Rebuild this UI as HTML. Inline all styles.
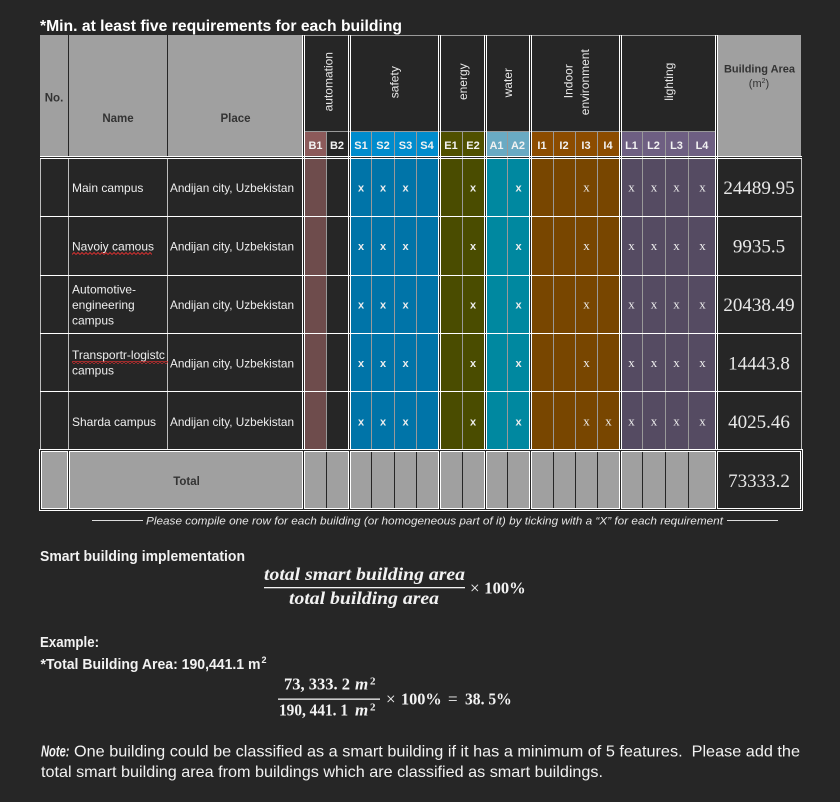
<!DOCTYPE html>
<html><head><meta charset="utf-8"><style>
html,body{margin:0;padding:0;background:#262626;}
svg{display:block;font-family:"Liberation Sans",sans-serif;}
.sf,.sf text{font-family:"Liberation Serif",serif;}
</style></head><body>
<svg width="840" height="802" viewBox="0 0 840 802" xmlns="http://www.w3.org/2000/svg">
<defs>
<pattern id="zz" x="0" y="0" width="4" height="3" patternUnits="userSpaceOnUse">
<path d="M0 2.5 L2 0.5 L4 2.5" stroke="#e03030" stroke-width="0.9" fill="none"/>
</pattern>
</defs>
<rect width="840" height="802" fill="#262626"/>

<!-- Title -->
<text x="40" y="31" font-size="16" font-weight="bold" fill="#fff" textLength="362" lengthAdjust="spacingAndGlyphs">*Min. at least five requirements for each building</text>

<!-- Header gray blocks -->
<rect x="40" y="35" width="262" height="121" fill="#a0a0a0"/>
<rect x="68" y="35" width="1" height="121" fill="#262626"/>
<rect x="167" y="35" width="1" height="121" fill="#262626"/>
<rect x="718" y="35" width="83" height="121" fill="#a0a0a0"/>
<rect x="302" y="35" width="416" height="1" fill="#9a9a9a"/>

<!-- Subheader fills -->
<rect x="305" y="131" width="21" height="25" fill="#8c5a5a"/>
<rect x="351" y="131" width="87" height="25" fill="#008ccd"/>
<rect x="441" y="131" width="43" height="25" fill="#505000"/>
<rect x="487" y="131" width="42" height="25" fill="#6aaac3"/>
<rect x="532" y="131" width="87" height="25" fill="#8c4c00"/>
<rect x="622" y="131" width="93" height="25" fill="#6e5f82"/>
<rect x="304" y="131" width="411" height="1" fill="#999"/>

<!-- Data fills -->
<rect x="305" y="159" width="21" height="290" fill="#6e4c4c"/>
<rect x="351" y="159" width="87" height="290" fill="#0074a8"/>
<rect x="441" y="159" width="43" height="290" fill="#4a4c00"/>
<rect x="487" y="159" width="42" height="290" fill="#0088a0"/>
<rect x="532" y="159" width="87" height="290" fill="#784600"/>
<rect x="622" y="159" width="93" height="290" fill="#554b62"/>

<!-- Sub-column gray lines -->
<g fill="#999">
<rect x="326" y="131" width="1" height="318"/>
<rect x="371" y="131" width="1" height="318"/>
<rect x="394" y="131" width="1" height="318"/>
<rect x="416" y="131" width="1" height="318"/>
<rect x="462" y="131" width="1" height="318"/>
<rect x="507" y="131" width="1" height="318"/>
<rect x="553" y="131" width="1" height="318"/>
<rect x="575" y="131" width="1" height="318"/>
<rect x="597" y="131" width="1" height="318"/>
<rect x="642" y="131" width="1" height="318"/>
<rect x="665" y="131" width="1" height="318"/>
<rect x="688" y="131" width="1" height="318"/>
</g>

<!-- Data left columns borders -->
<g fill="#bdbdbd">
<rect x="40" y="159" width="1" height="290"/>
<rect x="68" y="159" width="1" height="290"/>
<rect x="167" y="159" width="1" height="290"/>
<rect x="801" y="159" width="1" height="290"/>
</g>

<!-- White double vertical lines -->
<g fill="#fff">
<rect x="302" y="35" width="1" height="414"/><rect x="304" y="35" width="1" height="414"/>
<rect x="348" y="35" width="1" height="414"/><rect x="350" y="35" width="1" height="414"/>
<rect x="438" y="35" width="1" height="414"/><rect x="440" y="35" width="1" height="414"/>
<rect x="484" y="35" width="1" height="414"/><rect x="486" y="35" width="1" height="414"/>
<rect x="529" y="35" width="1" height="414"/><rect x="531" y="35" width="1" height="414"/>
<rect x="619" y="35" width="1" height="414"/><rect x="621" y="35" width="1" height="414"/>
<rect x="715" y="35" width="1" height="414"/><rect x="717" y="35" width="1" height="414"/>
<rect x="40" y="156" width="762" height="1"/>
<rect x="40" y="158" width="762" height="1"/>
<rect x="40" y="216" width="762" height="1"/>
<rect x="40" y="275" width="762" height="1"/>
<rect x="40" y="333" width="762" height="1"/>
<rect x="40" y="391" width="762" height="1"/>
</g>

<!-- Header texts -->
<g font-weight="bold" fill="#333" text-anchor="middle">
<text x="54" y="101.5" font-size="11.5">No.</text>
<text x="118" y="122" font-size="11.5">Name</text>
<text x="235.5" y="122" font-size="11.5">Place</text>
<text x="759.5" y="72.5" font-size="11">Building Area</text>
</g>
<text x="759" y="87" font-size="11" fill="#333" text-anchor="middle">(m<tspan font-size="7" dy="-4">2</tspan><tspan dy="4">)</tspan></text>

<!-- Rotated group headers -->
<g font-size="12" fill="#e8e8e8" text-anchor="middle">
<text transform="translate(332.5,81.7) rotate(-90)">automation</text>
<text transform="translate(398.5,82.2) rotate(-90)">safety</text>
<text transform="translate(467,81.7) rotate(-90)">energy</text>
<text transform="translate(512,82.7) rotate(-90)">water</text>
<text transform="translate(572.3,81.2) rotate(-90)">Indoor</text>
<text transform="translate(589,82.2) rotate(-90)">environment</text>
<text transform="translate(673,81.7) rotate(-90)">lighting</text>
</g>

<!-- Subheader labels -->
<g font-size="11" font-weight="bold" fill="#f2f2f2" text-anchor="middle">
<text x="315.5" y="149">B1</text><text x="337" y="149">B2</text>
<text x="361" y="149">S1</text><text x="383" y="149">S2</text><text x="405.5" y="149">S3</text><text x="427" y="149">S4</text>
<text x="451" y="149">E1</text><text x="473" y="149">E2</text>
<text x="496.5" y="149">A1</text><text x="518" y="149">A2</text>
<text x="542" y="149">I1</text><text x="564" y="149">I2</text><text x="586" y="149">I3</text><text x="608" y="149">I4</text>
<text x="631.5" y="149">L1</text><text x="653.5" y="149">L2</text><text x="676.5" y="149">L3</text><text x="702" y="149">L4</text>
</g>

<!-- Names -->
<g font-size="12" fill="#eee">
<text x="72" y="192">Main campus</text>
<text x="72" y="250.5">Navoiy camous</text>
<text x="72" y="293.5">Automotive-</text>
<text x="72" y="309">engineering</text>
<text x="72" y="324.5">campus</text>
<text x="72" y="359">Transportr-logistc</text>
<text x="72" y="374.5">campus</text>
<text x="72" y="426">Sharda campus</text>
</g>
<rect x="72" y="252" width="80" height="3" fill="url(#zz)"/>
<rect x="72" y="361" width="96" height="3" fill="url(#zz)"/>

<!-- Places -->
<g font-size="12" fill="#eee">
<text x="170" y="192" textLength="124" lengthAdjust="spacingAndGlyphs">Andijan city, Uzbekistan</text>
<text x="170" y="250.5" textLength="124" lengthAdjust="spacingAndGlyphs">Andijan city, Uzbekistan</text>
<text x="170" y="309" textLength="124" lengthAdjust="spacingAndGlyphs">Andijan city, Uzbekistan</text>
<text x="170" y="367.5" textLength="124" lengthAdjust="spacingAndGlyphs">Andijan city, Uzbekistan</text>
<text x="170" y="426" textLength="124" lengthAdjust="spacingAndGlyphs">Andijan city, Uzbekistan</text>
</g>

<!-- X marks: sans bold for S/E/A -->
<g font-size="11" font-weight="bold" fill="#eee" text-anchor="middle">
<text x="361" y="191.5">x</text><text x="383" y="191.5">x</text><text x="405.5" y="191.5">x</text><text x="473" y="191.5">x</text><text x="518.5" y="191.5">x</text>
<text x="361" y="250">x</text><text x="383" y="250">x</text><text x="405.5" y="250">x</text><text x="473" y="250">x</text><text x="518.5" y="250">x</text>
<text x="361" y="308.5">x</text><text x="383" y="308.5">x</text><text x="405.5" y="308.5">x</text><text x="473" y="308.5">x</text><text x="518.5" y="308.5">x</text>
<text x="361" y="367">x</text><text x="383" y="367">x</text><text x="405.5" y="367">x</text><text x="473" y="367">x</text><text x="518.5" y="367">x</text>
<text x="361" y="425.5">x</text><text x="383" y="425.5">x</text><text x="405.5" y="425.5">x</text><text x="473" y="425.5">x</text><text x="518.5" y="425.5">x</text>
</g>
<g class="sf" font-size="13" fill="#eee" text-anchor="middle">
<text x="586.5" y="191.5">x</text><text x="631.5" y="191.5">x</text><text x="654" y="191.5">x</text><text x="676.5" y="191.5">x</text><text x="702.5" y="191.5">x</text>
<text x="586.5" y="250">x</text><text x="631.5" y="250">x</text><text x="654" y="250">x</text><text x="676.5" y="250">x</text><text x="702.5" y="250">x</text>
<text x="586.5" y="308.5">x</text><text x="631.5" y="308.5">x</text><text x="654" y="308.5">x</text><text x="676.5" y="308.5">x</text><text x="702.5" y="308.5">x</text>
<text x="586.5" y="367">x</text><text x="631.5" y="367">x</text><text x="654" y="367">x</text><text x="676.5" y="367">x</text><text x="702.5" y="367">x</text>
<text x="586.5" y="425.5">x</text><text x="608.5" y="425.5">x</text><text x="631.5" y="425.5">x</text><text x="654" y="425.5">x</text><text x="676.5" y="425.5">x</text><text x="702.5" y="425.5">x</text>
</g>

<!-- Area values -->
<g class="sf" font-size="19" fill="#e8e8e8" text-anchor="middle">
<text x="759" y="194">24489.95</text>
<text x="759" y="252.5">9935.5</text>
<text x="759" y="311">20438.49</text>
<text x="759" y="369.5">14443.8</text>
<text x="759" y="428">4025.46</text>
</g>

<!-- Total row -->
<rect x="39.5" y="449.5" width="763" height="61" fill="#262626" stroke="#fff" stroke-width="1"/>
<g fill="#a0a0a0" stroke="#fff" stroke-width="1">
<rect x="41.5" y="451.5" width="26" height="57"/>
<rect x="69.5" y="451.5" width="233" height="57"/>
<rect x="304.5" y="451.5" width="44" height="57"/>
<rect x="350.5" y="451.5" width="88" height="57"/>
<rect x="440.5" y="451.5" width="44" height="57"/>
<rect x="486.5" y="451.5" width="43" height="57"/>
<rect x="531.5" y="451.5" width="88" height="57"/>
<rect x="621.5" y="451.5" width="94" height="57"/>
<rect x="717.5" y="451.5" width="83" height="57" fill="#262626"/>
</g>
<g fill="#262626">
<rect x="326" y="452" width="1" height="56"/>
<rect x="371" y="452" width="1" height="56"/>
<rect x="394" y="452" width="1" height="56"/>
<rect x="416" y="452" width="1" height="56"/>
<rect x="462" y="452" width="1" height="56"/>
<rect x="507" y="452" width="1" height="56"/>
<rect x="553" y="452" width="1" height="56"/>
<rect x="575" y="452" width="1" height="56"/>
<rect x="597" y="452" width="1" height="56"/>
<rect x="642" y="452" width="1" height="56"/>
<rect x="665" y="452" width="1" height="56"/>
<rect x="688" y="452" width="1" height="56"/>
</g>
<text x="186.5" y="485" font-size="11.5" font-weight="bold" fill="#333" text-anchor="middle">Total</text>
<text x="759" y="487" class="sf" font-size="19" fill="#e8e8e8" text-anchor="middle">73333.2</text>

<!-- Footer note -->
<rect x="92" y="520" width="51" height="1" fill="#ddd"/>
<rect x="727" y="520" width="51" height="1" fill="#ddd"/>
<text x="146" y="524.5" font-size="11" font-style="italic" fill="#e6e6e6" textLength="577" lengthAdjust="spacingAndGlyphs">Please compile one row for each building (or homogeneous part of it) by ticking with a “X” for each requirement</text>

<!-- Smart building implementation -->
<text x="40" y="561" font-size="14.5" font-weight="bold" fill="#f2f2f2" textLength="205" lengthAdjust="spacingAndGlyphs">Smart building implementation</text>
<g class="sf" fill="#f2f2f2">
<text x="264" y="580" font-size="18" font-weight="bold" font-style="italic" textLength="201" lengthAdjust="spacingAndGlyphs">total smart building area</text>
<rect x="264" y="587" width="201" height="1.3"/>
<text x="289" y="604" font-size="18" font-weight="bold" font-style="italic" textLength="150" lengthAdjust="spacingAndGlyphs">total building area</text>
<text x="470" y="593.5" font-size="17">×</text>
<text x="484.3" y="593.5" font-size="17" font-weight="bold" textLength="41.4" lengthAdjust="spacingAndGlyphs">100%</text>
</g>

<text x="40" y="647" font-size="14.5" font-weight="bold" fill="#f2f2f2" textLength="59" lengthAdjust="spacingAndGlyphs">Example:</text>
<text x="40.5" y="669" font-size="14.5" font-weight="bold" fill="#f2f2f2" textLength="220" lengthAdjust="spacingAndGlyphs">*Total Building Area: 190,441.1 m</text>
<text x="261.5" y="663" font-size="9" font-weight="bold" fill="#f2f2f2">2</text>

<!-- Example formula -->
<g class="sf" fill="#f2f2f2" font-weight="bold">
<text x="284" y="689.3" font-size="17" textLength="66" lengthAdjust="spacingAndGlyphs">73, 333. 2</text>
<text x="355" y="689.3" font-size="17" font-style="italic">m</text>
<text x="370" y="684.5" font-size="11">2</text>
<rect x="278" y="698.5" width="102" height="1.3"/>
<text x="279" y="715.5" font-size="17" textLength="69" lengthAdjust="spacingAndGlyphs">190, 441. 1</text>
<text x="355" y="715.5" font-size="17" font-style="italic">m</text>
<text x="370" y="710.5" font-size="11">2</text>
<text x="386" y="704.5" font-size="17" font-weight="normal">×</text>
<text x="401" y="704.5" font-size="17" textLength="40.7" lengthAdjust="spacingAndGlyphs">100%</text>
<text x="448" y="704.5" font-size="17" font-weight="normal">=</text>
<text x="465" y="704.5" font-size="17" textLength="46.7" lengthAdjust="spacingAndGlyphs">38. 5%</text>
</g>

<!-- Note -->
<text x="41" y="756.5" font-size="16" font-weight="bold" font-style="italic" fill="#f2f2f2" textLength="28.5" lengthAdjust="spacingAndGlyphs">Note:</text>
<text x="74" y="756.5" font-size="16" fill="#f2f2f2" style="white-space:pre" textLength="726" lengthAdjust="spacingAndGlyphs">One building could be classified as a smart building if it has a minimum of 5 features.  Please add the</text>
<text x="41" y="777" font-size="16" fill="#f2f2f2" textLength="562" lengthAdjust="spacingAndGlyphs">total smart building area from buildings which are classified as smart buildings.</text>
</svg>
</body></html>
